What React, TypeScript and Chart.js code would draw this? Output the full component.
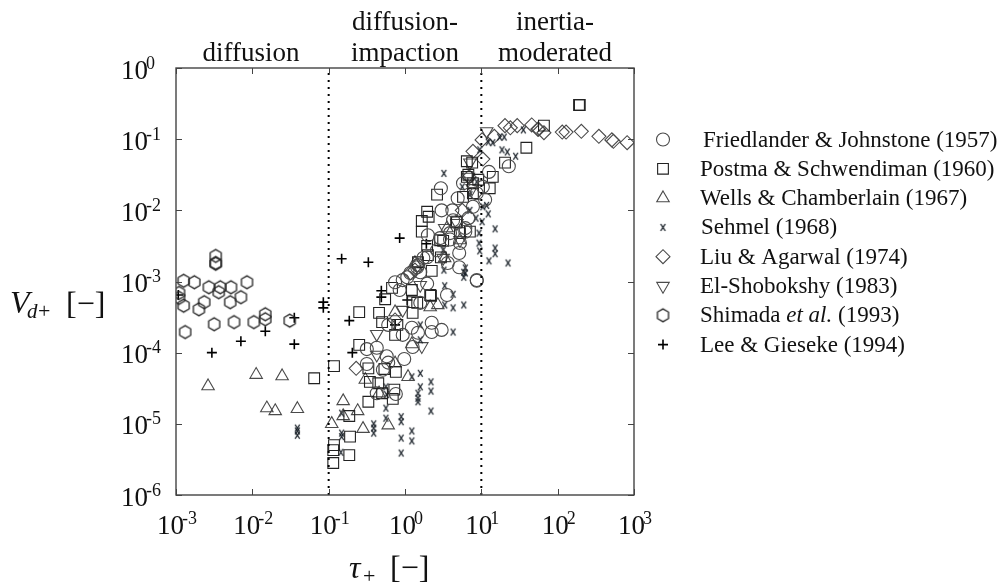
import React, { useEffect, useRef } from "react";
import { Chart, registerables } from "chart.js";
import { drawPoint } from "chart.js/helpers";

Chart.register(...registerables);

// All values are [log10(tau+), log10(Vd+)].
const friedlander: number[][] = [
  [-0.5,-3.95],[-0.37,-3.93],[-0.24,-4.05],[-0.5,-4.16],[-0.22,-4.14],[-0.01,-4.09],[-0.29,-4.24],[-0.12,-4.58],[-0.37,-4.57],
  [-0.22,-3.61],[-0.03,-3.75],[0.17,-3.72],[0.35,-3.58],[0.35,-3.71],[0.48,-3.68],[0.1,-3.92],[-0.03,-2.98],[-0.13,-3.01],
  [0.29,-3.03],[0.55,-3.19],[0.2,-3.3],[0.94,-2.99],[-0.07,-3.12],[0.07,-2.88],[0.2,-2.87],[0.47,-1.69],[0.48,-2.0],[0.69,-1.83],
  [0.76,-1.62],[1.1,-1.46],[1.36,-1.38],[1.05,-1.85],[0.62,-2.0],[0.83,-2.11],[0.89,-1.95],[0.3,-2.35],[0.46,-2.39],[0.59,-2.32],
  [0.71,-2.6],[0.71,-2.8],[0.56,-2.74],[0.94,-2.98],[0.24,-2.67],[0.42,-2.56],[0.79,-2.25],[0.16,-2.8],[1.02,-1.67],
  [0.59,-2.41],[0.72,-2.46],[0.79,-2.3],[0.63,-2.14],[0.29,-2.66],[0.94,-1.76],[0.17,-2.77],[0.09,-3.65],[0.03,-2.94],
];
const postma: number[][] = [
  [-1.19,-4.36],[-0.93,-4.19],[-0.6,-3.43],[-0.34,-3.44],[-0.3,-3.57],[-0.26,-3.25],[-0.17,-3.09],[-0.6,-3.89],[-0.48,-4.22],
  [-0.27,-4.23],[-0.12,-4.27],[-0.46,-4.41],[-0.35,-4.43],[-0.3,-4.57],[-0.14,-4.52],[-0.16,-4.65],[-0.48,-4.69],[-0.73,-4.89],
  [-0.72,-5.18],[-0.73,-5.44],[-0.93,-5.3],[-0.94,-5.37],[-0.94,-5.55],[0.09,-3.12],[0.33,-3.19],[0.1,-3.44],[-0.1,-3.61],
  [-0.13,-3.75],[0.16,-3.3],[2.28,-0.52],[2.29,-0.52],[1.82,-0.81],[1.59,-1.12],[1.31,-1.33],[0.81,-1.31],[0.88,-1.33],[0.81,-1.53],
  [1.15,-1.53],[1.11,-1.69],[0.89,-1.76],[0.76,-1.81],[0.42,-1.78],[0.29,-2.02],[0.31,-2.09],[0.22,-2.15],[0.22,-2.3],[0.68,-2.16],
  [0.72,-2.32],[0.85,-2.3],[0.5,-2.43],[0.29,-2.5],[0.47,-2.66],[0.17,-2.73],[0.35,-2.85],[0.89,-1.62],[0.96,-1.57],
  [0.46,-2.42],[0.83,-1.5],[0.3,-2.63],[0.1,-3.29],[0.67,-2.17],[0.34,-3.2],
];
const wells: number[][] = [
  [-2.58,-4.47],[-1.95,-4.31],[-1.61,-4.33],[-1.81,-4.78],[-1.7,-4.82],[-1.41,-4.79],[-0.96,-5.0],[-0.81,-4.68],[-0.81,-4.89],
  [-0.62,-4.82],[-0.55,-5.07],[-0.22,-5.02],[-0.52,-4.38],[-0.34,-4.57],[0.04,-4.34],[0.09,-3.88],[-0.13,-3.43],[-0.13,-4.15],
  [0.43,-3.33],[0.72,-2.42],[0.55,-2.25],[0.52,-2.67],[0.33,-3.36],[0.13,-2.74],
];
const sehmel: number[][] = [
  [-1.41,-5.06],[-1.41,-5.1],[-1.41,-5.16],[-0.83,-4.85],[-0.83,-5.13],[-0.83,-5.18],[-0.84,-5.4],[-0.41,-5.0],[-0.41,-5.06],[-0.41,-5.13],
  [-0.25,-4.48],[-0.24,-4.59],[-0.25,-4.78],[-0.25,-4.92],[-0.05,-4.9],[-0.05,-4.97],[-0.05,-5.2],[-0.05,-5.41],[0.09,-5.1],[0.09,-5.24],
  [0.09,-4.34],[0.2,-4.29],[0.2,-4.48],[0.17,-4.57],[0.17,-4.64],[0.17,-4.69],[0.34,-4.41],[0.34,-4.54],[0.34,-4.82],[0.63,-3.71],[0.2,-3.82],
  [0.77,-3.33],[0.63,-3.37],[0.52,-3.33],[0.52,-3.06],[0.63,-3.18],[0.77,-2.94],[0.77,-2.87],[0.2,-3.61],[0.51,-1.48],[0.75,-1.67],[0.85,-1.78],
  [0.98,-1.15],[1.27,-1.15],[1.34,-1.18],[1.45,-1.24],[1.09,-1.04],[1.15,-1.05],[1.24,-0.97],[1.3,-0.97],[1.55,-0.87],[0.94,-1.6],[1.02,-1.95],
  [1.07,-1.93],[1.09,-2.05],[0.93,-2.11],[1.01,-2.16],[1.18,-2.26],[0.97,-2.32],[0.97,-2.46],[0.98,-2.57],[1.18,-2.53],[1.18,-2.61],[1.1,-2.71],
  [1.35,-2.74],[0.79,-2.81],[0.79,-2.88],[0.51,-2.84],[0.5,-2.56],[0.85,-2.0],
];
const liu: number[][] = [
  [1.31,-0.81],[1.38,-0.84],[1.47,-0.81],[1.66,-0.8],[1.74,-0.86],[1.82,-0.91],[1.75,-0.86],[2.06,-0.9],[2.11,-0.9],[2.31,-0.89],[2.54,-0.96],
  [2.71,-1.01],[2.73,-1.03],[2.91,-1.05],[1.17,-0.96],[1.01,-1.01],[0.89,-1.17],[1.02,-1.28],[0.84,-1.53],[0.75,-2.0],[0.13,-2.84],[0.07,-2.88],
  [-0.64,-4.22],[-0.13,-3.54],[0.16,-2.77],
];
const elShobokshy: number[][] = [
  [1.07,-0.89],[0.85,-1.33],[0.83,-1.53],[0.52,-2.25],[0.68,-2.18],[0.5,-2.67],[0.72,-2.42],[0.88,-1.69],[-0.37,-3.74],[-0.37,-4.03],
  [0.22,-3.91],[-0.03,-3.4],[0.2,-3.05],
];
const shimada: number[][] = [
  [-2.9,-2.99],[-2.76,-3.01],[-2.57,-3.08],[-2.42,-3.08],[-2.44,-3.15],[-2.28,-3.08],[-2.07,-3.01],[-2.15,-3.22],[-2.29,-3.29],[-2.63,-3.29],
  [-2.7,-3.39],[-2.9,-3.34],[-2.96,-3.16],[-2.96,-3.23],[-2.5,-3.6],[-2.24,-3.57],[-1.98,-3.57],[-1.83,-3.46],[-1.83,-3.53],[-1.51,-3.55],
  [-2.88,-3.71],[-2.48,-2.64],[-2.48,-2.74],[-2.48,-2.75],
];
const lee: number[][] = [
  [-0.83,-2.68],[-0.48,-2.73],[-0.07,-2.39],[-1.07,-3.29],[-1.07,-3.37],[-1.45,-3.51],[-1.83,-3.7],[-2.15,-3.84],[-1.45,-3.88],[-2.53,-4.0],
  [-2.97,-3.19],[-0.73,-3.55],[-0.69,-4.0],[-0.31,-3.13],[-0.31,-3.22],[0.03,-3.26],[0.28,-2.47],[-0.13,-3.61],
];

const xDecades = [-3, -2, -1, 0, 1, 2, 3];
const yDecades = [-6, -5, -4, -3, -2, -1, 0];
const regimeBounds = [0.1, 10];

const SERIF = '"Liberation Serif", serif';
const pts = (a: number[][]) => a.map(([x, y]) => ({ x: 10 ** x, y: 10 ** y }));

function hexagon(r: number, color: string) {
  const c = document.createElement("canvas");
  c.width = c.height = Math.ceil(r * 2 + 4);
  const g = c.getContext("2d")!;
  const m = c.width / 2;
  g.strokeStyle = color;
  g.lineWidth = 1.3;
  g.beginPath();
  for (let i = 0; i < 6; i++) {
    const a = (Math.PI / 3) * i;
    const px = m + Math.sin(a) * r;
    const py = m - Math.cos(a) * r;
    if (i) g.lineTo(px, py);
    else g.moveTo(px, py);
  }
  g.closePath();
  g.stroke();
  return c;
}

function narrowX(color: string) {
  const c = document.createElement("canvas");
  c.width = 9;
  c.height = 11;
  const g = c.getContext("2d")!;
  g.strokeStyle = color;
  g.lineWidth = 1.3;
  g.beginPath();
  g.moveTo(2.2, 2); g.lineTo(6.8, 9);
  g.moveTo(6.8, 2); g.lineTo(2.2, 9);
  g.stroke();
  return c;
}

type Seg = { t: string; italic?: boolean };
const legendEntries: { segs: Seg[]; x: number }[] = [
  { segs: [{ t: "Friedlander & Johnstone (1957)" }], x: 703 },
  { segs: [{ t: "Postma & Schwendiman (1960)" }], x: 700 },
  { segs: [{ t: "Wells & Chamberlain (1967)" }], x: 700 },
  { segs: [{ t: "Sehmel (1968)" }], x: 701 },
  { segs: [{ t: "Liu & Agarwal (1974)" }], x: 700 },
  { segs: [{ t: "El-Shobokshy (1983)" }], x: 700 },
  { segs: [{ t: "Shimada " }, { t: "et al.", italic: true }, { t: " (1993)" }], x: 700 },
  { segs: [{ t: "Lee & Gieseke (1994)" }], x: 700 },
];

function power(ctx: CanvasRenderingContext2D, e: number, x: number, baseline: number) {
  ctx.font = `27px ${SERIF}`;
  ctx.fillText("10", x, baseline);
  const w = ctx.measureText("10").width;
  ctx.font = `18px ${SERIF}`;
  ctx.fillText(String(e), x + w - 2, baseline - 10);
}
function powerWidth(ctx: CanvasRenderingContext2D, e: number) {
  ctx.font = `27px ${SERIF}`;
  const w = ctx.measureText("10").width;
  ctx.font = `18px ${SERIF}`;
  return w - 2 + ctx.measureText(String(e)).width;
}

const frame = {
  id: "frame",
  afterDatasetsDraw(chart: any) {
    const { ctx, chartArea: a, scales } = chart;
    ctx.save();
    ctx.strokeStyle = "#444";
    ctx.lineWidth = 1;
    ctx.beginPath();
    for (const t of scales.x.ticks) {
      const px = Math.round(scales.x.getPixelForValue(t.value)) + 0.5;
      ctx.moveTo(px, a.top); ctx.lineTo(px, a.top + 6);
      ctx.moveTo(px, a.bottom); ctx.lineTo(px, a.bottom - 6);
    }
    for (const t of scales.y.ticks) {
      const py = Math.round(scales.y.getPixelForValue(t.value)) + 0.5;
      ctx.moveTo(a.left, py); ctx.lineTo(a.left + 6, py);
      ctx.moveTo(a.right, py); ctx.lineTo(a.right - 6, py);
    }
    ctx.stroke();
    ctx.lineWidth = 1.4;
    ctx.strokeRect(a.left, a.top, a.right - a.left, a.bottom - a.top);
    ctx.restore();
  },
  afterDraw(chart: any) {
    const { ctx, scales } = chart;
    ctx.save();
    ctx.fillStyle = "#111";
    ctx.textBaseline = "alphabetic";
    ctx.textAlign = "center";
    ctx.font = `27px ${SERIF}`;
    ctx.fillText("diffusion", 251, 61);
    ctx.fillText("diffusion-", 405, 30);
    ctx.fillText("impaction", 405, 61);
    ctx.fillText("inertia-", 555, 30);
    ctx.fillText("moderated", 555, 61);

    ctx.textAlign = "left";
    // tick labels
    xDecades.forEach((e) => {
      const px = scales.x.getPixelForValue(10 ** e);
      power(ctx, e, px + 1 - powerWidth(ctx, e) / 2, 534);
    });
    yDecades.forEach((e) => {
      const py = scales.y.getPixelForValue(10 ** e);
      power(ctx, e, 121, py + 10.5);
    });

    // axis titles
    ctx.font = `italic 32px ${SERIF}`;
    ctx.fillText("V", 10, 313);
    ctx.font = `italic 21px ${SERIF}`;
    ctx.fillText("d", 27, 318);
    ctx.font = `22px ${SERIF}`;
    ctx.fillText("+", 38, 318);
    ctx.font = `32px ${SERIF}`;
    ctx.fillText("[\u2212]", 66, 314);
    ctx.font = `italic 32px ${SERIF}`;
    ctx.fillText("\u03C4", 349, 578);
    ctx.font = `22px ${SERIF}`;
    ctx.fillText("+", 363, 583);
    ctx.font = `32px ${SERIF}`;
    ctx.fillText("[\u2212]", 390, 578);

    // legend
    const ds = chart.data.datasets.filter((d: any) => d.showInLegend);
    ds.forEach((d: any, i: number) => {
      const y = 139.5 + i * 29.3;
      ctx.save();
      ctx.strokeStyle = d.borderColor;
      ctx.fillStyle = "rgba(0,0,0,0)";
      ctx.lineWidth = d.pointBorderWidth ?? 1;
      drawPoint(ctx, { pointStyle: d.pointStyle, rotation: d.pointRotation ?? 0, radius: d.pointRadius, borderWidth: ctx.lineWidth } as any, 663, y);
      ctx.restore();
      const entry = legendEntries[i];
      let x = entry.x;
      for (const s of entry.segs) {
        ctx.font = `${s.italic ? "italic " : ""}23px ${SERIF}`;
        ctx.fillText(s.t, x, y + 7);
        x += ctx.measureText(s.t).width;
      }
    });
    ctx.restore();
  },
};

export default function App() {
  const ref = useRef<HTMLCanvasElement | null>(null);
  useEffect(() => {
    document.body.style.margin = "0";
    const mk = (label: string, data: number[][], pointStyle: any, pointRadius: number, color: string, extra: any = {}) => ({
      label,
      data: pts(data),
      pointStyle,
      pointRadius,
      borderColor: color,
      pointBorderColor: color,
      pointBackgroundColor: "rgba(0,0,0,0)",
      pointBorderWidth: 1.1,
      showLine: false,
      showInLegend: true,
      ...extra,
    });
    const guide = (v: number) => ({
      type: "line" as const,
      label: `guide ${v}`,
      data: [{ x: v, y: 1e-6 }, { x: v, y: 1 }],
      borderColor: "#000",
      borderWidth: 2,
      borderDash: [2, 5],
      pointRadius: 0,
      showLine: true,
      showInLegend: false,
    });
    const chart = new Chart(ref.current!, {
      type: "scatter",
      data: {
        datasets: [
          ...regimeBounds.map(guide),
          mk("Friedlander & Johnstone (1957)", friedlander, "circle", 6.5, "#4a4a4a"),
          mk("Postma & Schwendiman (1960)", postma, "rect", 7.6, "#222"),
          mk("Wells & Chamberlain (1967)", wells, "triangle", 7.2, "#4a4a4a"),
          mk("Sehmel (1968)", sehmel, narrowX("#101820"), 4, "#101820"),
          mk("Liu & Agarwal (1974)", liu, "rectRot", 7, "#4a4a4a"),
          mk("El-Shobokshy (1983)", elShobokshy, "triangle", 7.2, "#4a4a4a", { pointRotation: 180 }),
          mk("Shimada et al. (1993)", shimada, hexagon(6.4, "#222"), 6.4, "#222"),
          mk("Lee & Gieseke (1994)", lee, "cross", 5, "#000", { pointBorderWidth: 1.6 }),
        ] as any,
      },
      options: {
        animation: false,
        responsive: false,
        layout: { padding: { top: 68, right: 364, left: 0, bottom: 0 } },
        plugins: { legend: { display: false }, tooltip: { enabled: false } },
        scales: {
          x: {
            type: "logarithmic",
            min: 1e-3,
            max: 1e3,
            border: { display: false },
            grid: { drawOnChartArea: false, drawTicks: false },
            afterBuildTicks: (s: any) => { s.ticks = xDecades.map((e) => ({ value: 10 ** e, major: true })); },
            afterFit: (s: any) => { s.height = 93; },
            ticks: { display: false, autoSkip: false },
          },
          y: {
            type: "logarithmic",
            min: 1e-6,
            max: 1,
            border: { display: false },
            grid: { drawOnChartArea: false, drawTicks: false },
            afterBuildTicks: (s: any) => { s.ticks = yDecades.map((e) => ({ value: 10 ** e, major: true })); },
            afterFit: (s: any) => { s.width = 176; },
            ticks: { display: false, autoSkip: false },
          },
        },
      } as any,
      plugins: [frame],
    });
    return () => chart.destroy();
  }, []);
  return (
    <div style={{ width: 998, height: 588 }}>
      <canvas ref={ref} width={998} height={588} style={{ display: "block" }} />
    </div>
  );
}
